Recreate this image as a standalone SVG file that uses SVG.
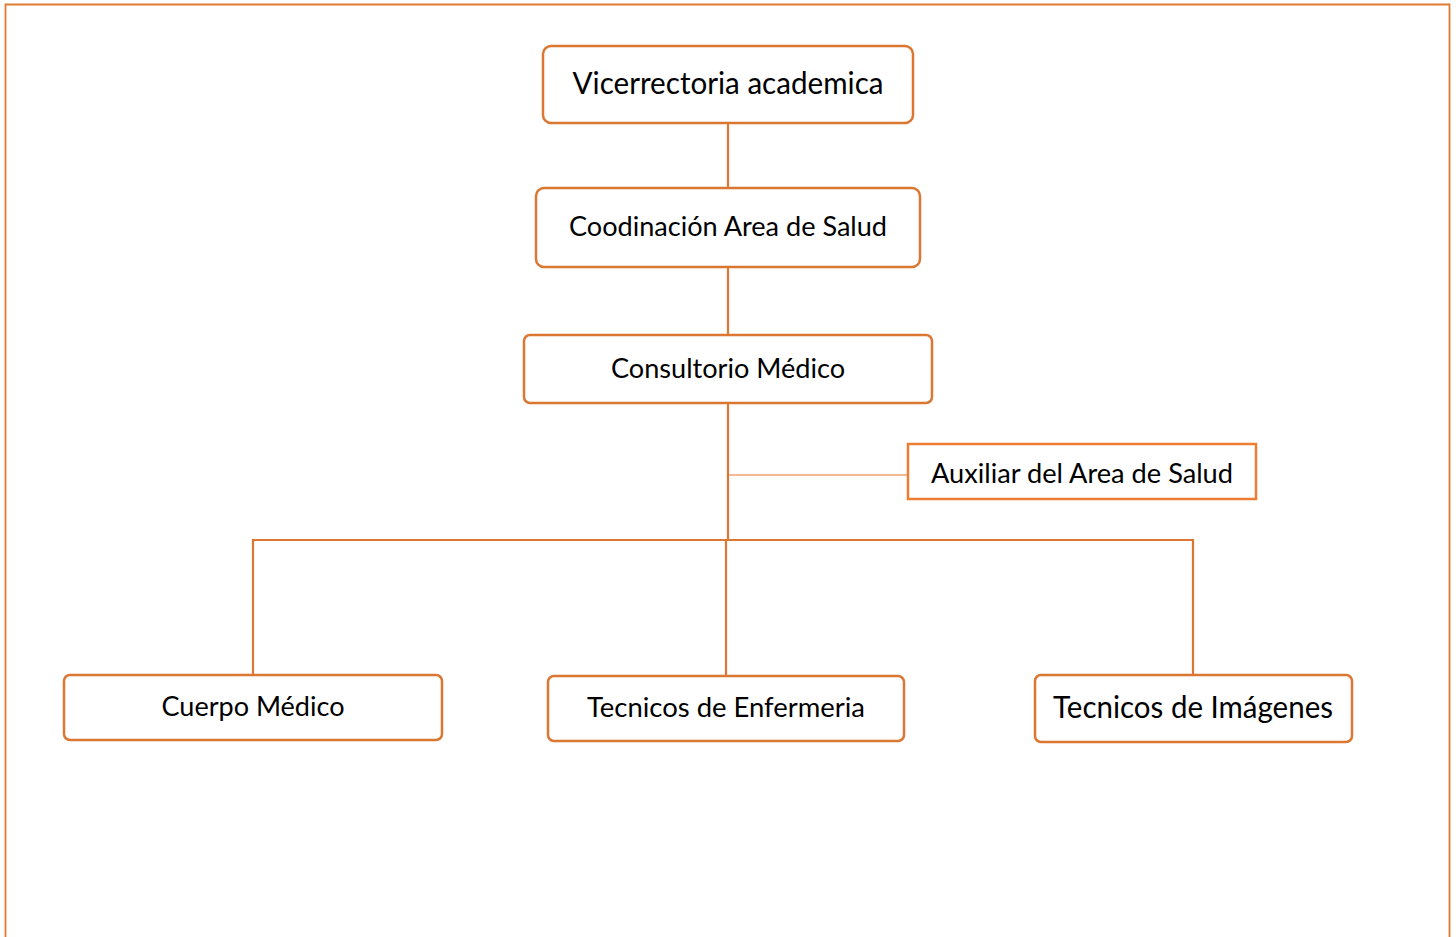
<svg xmlns="http://www.w3.org/2000/svg" width="1456" height="937" viewBox="0 0 1456 937">
<style>
.box{fill:#fff;stroke:#DC7633;stroke-width:2.5}
.aux{fill:#fff;stroke:#ED7D31;stroke-width:2.5}
.ln{stroke:#DC7633;stroke-width:2.2;fill:none}
.lt{stroke:#F2A26C;stroke-width:1.3;fill:none}
text{font-family:Lato,"Open Sans",sans-serif;fill:#000;text-anchor:middle}
</style>
<rect width="1456" height="937" fill="#fff"/>
<path d="M5.5,940 V4.5 H1449.5 V940" fill="none" stroke="#E07A33" stroke-width="1.8"/>
<g id="connectors">
<line class="ln" x1="728" y1="123" x2="728" y2="188"/>
<line class="ln" x1="728" y1="267" x2="728" y2="335"/>
<line class="ln" x1="728" y1="403" x2="728" y2="540"/>
<polyline class="ln" points="253,675 253,540 1193,540 1193,675"/>
<line class="ln" x1="726" y1="540" x2="726" y2="676"/>
<line class="lt" x1="729" y1="475" x2="908" y2="475"/>
</g>
<g id="n1"><rect class="box" x="543" y="46" width="370" height="77" rx="8"/><text x="728" y="94" font-size="30" textLength="311" lengthAdjust="spacingAndGlyphs">Vicerrectoria academica</text></g>
<g id="n2"><rect class="box" x="536" y="188" width="384" height="79" rx="8"/><text x="728" y="236" font-size="26" textLength="318" lengthAdjust="spacingAndGlyphs">Coodinación Area de Salud</text></g>
<g id="n3"><rect class="box" x="524" y="335" width="408" height="68" rx="6"/><text x="728" y="378" font-size="26" textLength="234" lengthAdjust="spacingAndGlyphs">Consultorio Médico</text></g>
<g id="n4"><rect class="aux" x="908" y="444" width="348" height="55"/><text x="1082" y="483" font-size="26" textLength="302" lengthAdjust="spacingAndGlyphs">Auxiliar del Area de Salud</text></g>
<g id="n5"><rect class="box" x="64" y="675" width="378" height="65" rx="6"/><text x="253" y="716" font-size="26" textLength="183" lengthAdjust="spacingAndGlyphs">Cuerpo Médico</text></g>
<g id="n6"><rect class="box" x="548" y="676" width="356" height="65" rx="6"/><text x="726" y="717" font-size="26" textLength="278" lengthAdjust="spacingAndGlyphs">Tecnicos de Enfermeria</text></g>
<g id="n7"><rect class="box" x="1035" y="675" width="317" height="67" rx="6"/><text x="1193" y="718" font-size="30" textLength="280" lengthAdjust="spacingAndGlyphs">Tecnicos de Imágenes</text></g>
</svg>
